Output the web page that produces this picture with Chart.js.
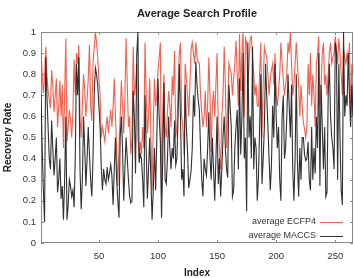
<!DOCTYPE html>
<html>
<head>
<meta charset="utf-8">
<script src="https://cdn.jsdelivr.net/npm/chart.js@4.4.1/dist/chart.umd.min.js"></script>
<style>
  html, body { margin: 0; padding: 0; background: #fff; }
  #wrap { width: 354px; height: 278px; }
</style>
</head>
<body>
<div id="wrap"><canvas id="chart"></canvas></div>
<script>
const chartTitle = "Average Search Profile";
const xTitle = "Index";
const yTitle = "Recovery Rate";
const seriesNames = ["average ECFP4", "average MACCS"];
const xTicks = [50, 100, 150, 200, 250];
const yTicks = [0, 0.1, 0.2, 0.3, 0.4, 0.5, 0.6, 0.7, 0.8, 0.9, 1];

// values, index 1..265
const ecfp4 = [
  .92,.80,.71,.78,.93,.80,.72,.68,.64,.82,
  .75,.62,.70,.78,.55,.65,.77,.60,.75,.45,
  .70,.97,.48,.55,.63,.58,.50,.62,.87,.70,
  .90,.85,.94,.60,.50,.65,.80,.72,.60,.68,
  .78,.94,.65,.58,.85,.92,1.0,.95,.88,.78,
  .70,.50,.55,.52,.48,.55,.60,.52,.58,.63,
  .55,.65,.78,.60,.45,.27,.45,.60,.77,.65,
  .52,.70,.97,.75,.55,.60,.42,.50,.93,.70,
  .75,.85,.50,.40,.48,.42,.55,.45,.95,.70,
  .52,.60,.78,.50,.25,.55,.78,.65,.70,.82,
  .88,.95,.23,.60,.80,.55,.50,.62,.72,.65,
  .55,.79,.70,.91,.50,.55,.72,.90,.95,.60,
  .55,.42,.85,.78,.70,.60,.75,.92,.95,.90,
  .85,.95,.88,.86,.85,.70,.62,.55,.60,.72,
  .55,.65,.88,.70,.43,.65,.72,.60,.75,.90,
  .55,.45,.35,.60,.70,.93,.75,.45,.65,.85,
  .82,.80,.70,.78,.85,.96,.80,.65,.99,.72,
  .90,1.0,.60,.97,.95,.75,.85,.97,.98,.88,
  .80,.70,.75,.65,.65,.80,.95,.50,.75,.93,
  .90,.88,.80,.70,.78,.82,.85,.75,.90,.70,
  .65,.72,.80,.95,.85,.78,.70,.75,.80,.95,
  .90,1.0,.85,.70,.75,.85,.95,.85,.75,.60,
  .75,.65,.57,.54,.50,.55,.85,.70,.90,.65,
  .80,.70,.55,.85,.90,.98,.65,.75,.90,.95,
  .75,.80,.70,.80,.90,.95,.85,.88,.90,.98,
  .92,.85,.97,.90,.80,.70,.92,.88,.85,.90,
  .85,.95,.60,.85,.80
];
const maccs = [
  .70,.45,.25,.10,.88,.70,.55,.40,.35,.58,
  .45,.32,.40,.50,.24,.30,.40,.21,.27,.11,
  .30,.60,.11,.18,.30,.27,.22,.25,.17,.40,
  .85,.70,.88,.35,.16,.30,.60,.45,.27,.40,
  .55,.42,.30,.22,.40,.70,.83,.80,.75,.65,
  .55,.36,.25,.35,.30,.28,.36,.30,.33,.37,
  .32,.18,.35,.50,.30,.20,.12,.50,.60,.45,
  .20,.35,.50,.40,.30,.22,.19,.20,.72,.60,
  .33,.89,1.0,.38,.42,.40,.30,.17,.70,.45,
  .21,.35,.50,.30,.11,.25,.45,.25,.50,.78,
  .60,.48,.12,.40,.76,.30,.28,.40,.60,.45,
  .35,.45,.40,.58,.37,.40,.60,.85,.60,.30,
  .35,.22,.75,.55,.43,.26,.30,.34,.45,.70,
  .60,.86,.75,.68,.63,.45,.30,.22,.40,.35,
  .32,.45,.62,.40,.30,.50,.35,.20,.40,.60,
  .28,.40,.22,.35,.50,.60,.45,.35,.31,.75,
  .65,.55,.22,.25,.45,.55,.63,.35,.78,.42,
  .60,.90,.40,.50,.15,.95,.50,.60,.40,.93,
  .35,.50,.45,.20,.31,.55,.80,.28,.40,.55,
  .85,.70,.55,.40,.25,.37,.65,.50,.85,.60,
  .45,.55,.30,.20,.60,.70,.40,.45,.60,.80,
  .65,.50,.75,.35,.20,.40,.80,.38,.22,.45,
  .30,.50,.50,.42,.39,.40,.48,.30,.25,.55,
  .30,.45,.33,.60,.45,.90,.27,.75,.55,.35,
  .55,.22,.24,.70,.85,.60,.50,.45,.35,.95,
  .90,.30,.85,.50,.25,.18,1.0,.60,.70,.65,
  .90,.70,.55,.75,.60
];
const indices = ecfp4.map((v, i) => i + 1);

const redColor = "rgba(238, 80, 60, 0.9)";
const blackColor = "rgba(20, 20, 20, 0.88)";
const axisColor = "#8a8a8a";
const font = "'Liberation Sans', Arial, Helvetica, sans-serif";

// box, inward ticks, titles and legend
const decor = {
  id: "decor",
  beforeDatasetsDraw(chart) {
    const { ctx, chartArea: a, scales } = chart;
    ctx.save();
    ctx.strokeStyle = axisColor;
    ctx.lineWidth = 1;
    ctx.strokeRect(a.left + 0.5, a.top + 0.5, a.right - a.left - 1, a.bottom - a.top - 1);
    ctx.beginPath();
    xTicks.forEach(t => {
      const px = Math.round(scales.x.getPixelForValue(t)) + 0.5;
      ctx.moveTo(px, a.bottom); ctx.lineTo(px, a.bottom - 3);
      ctx.moveTo(px, a.top); ctx.lineTo(px, a.top + 3);
    });
    yTicks.forEach(t => {
      const py = Math.round(scales.y.getPixelForValue(t)) + 0.5;
      ctx.moveTo(a.left, py); ctx.lineTo(a.left + 3, py);
      ctx.moveTo(a.right, py); ctx.lineTo(a.right - 3, py);
    });
    ctx.stroke();
    ctx.restore();
  },
  afterDraw(chart) {
    const { ctx, chartArea: a } = chart;
    ctx.save();
    ctx.fillStyle = "#222";
    ctx.textAlign = "center";
    ctx.textBaseline = "middle";
    ctx.font = "bold 11px " + font;
    ctx.fillText(chartTitle, (a.left + a.right) / 2, 14);
    ctx.font = "bold 10px " + font;
    ctx.fillText(xTitle, (a.left + a.right) / 2, 273);
    ctx.save();
    ctx.translate(8, (a.top + a.bottom) / 2);
    ctx.rotate(-Math.PI / 2);
    ctx.fillText(yTitle, 0, 0);
    ctx.restore();

    // legend
    const colors = [redColor, blackColor];
    ctx.font = "9px " + font;
    ctx.textAlign = "right";
    seriesNames.forEach((name, i) => {
      const yy = 221.5 + i * 14;
      ctx.fillStyle = "#333";
      ctx.fillText(name, 316, yy);
      ctx.strokeStyle = colors[i];
      ctx.lineWidth = 1;
      ctx.beginPath();
      ctx.moveTo(320, Math.round(yy) + 0.5);
      ctx.lineTo(343, Math.round(yy) + 0.5);
      ctx.stroke();
    });
    ctx.restore();
  }
};

new Chart(document.getElementById("chart"), {
  type: "line",
  data: {
    datasets: [
      {
        label: seriesNames[0],
        data: indices.map((x, i) => ({ x: x, y: ecfp4[i] })),
        borderColor: redColor,
        borderWidth: 1.1,
        pointRadius: 0,
        order: 1
      },
      {
        label: seriesNames[1],
        data: indices.map((x, i) => ({ x: x, y: maccs[i] })),
        borderColor: blackColor,
        borderWidth: 1.1,
        pointRadius: 0,
        order: 0
      }
    ]
  },
  options: {
    responsive: true,
    maintainAspectRatio: false,
    animation: false,
    events: [],
    layout: { padding: { top: 32, right: 1, left: 0, bottom: 0 } },
    plugins: {
      legend: { display: false },
      title: { display: false },
      tooltip: { enabled: false }
    },
    scales: {
      x: {
        type: "linear",
        min: 1,
        max: 265,
        afterBuildTicks: s => { s.ticks = xTicks.map(v => ({ value: v })); },
        afterFit: s => { s.height = 35; },
        grid: { display: false, drawTicks: false },
        border: { display: false },
        ticks: { padding: 8, color: "#333", font: { family: font, size: 9.5 }, maxRotation: 0 }
      },
      y: {
        min: 0,
        max: 1,
        afterBuildTicks: s => { s.ticks = yTicks.map(v => ({ value: v })); },
        afterFit: s => { s.width = 41; },
        grid: { display: false, drawTicks: false },
        border: { display: false },
        ticks: {
          padding: 5,
          color: "#333",
          font: { family: font, size: 9.5 },
          callback: v => String(Math.round(v * 10) / 10)
        }
      }
    }
  },
  plugins: [decor]
});
</script>
</body>
</html>
